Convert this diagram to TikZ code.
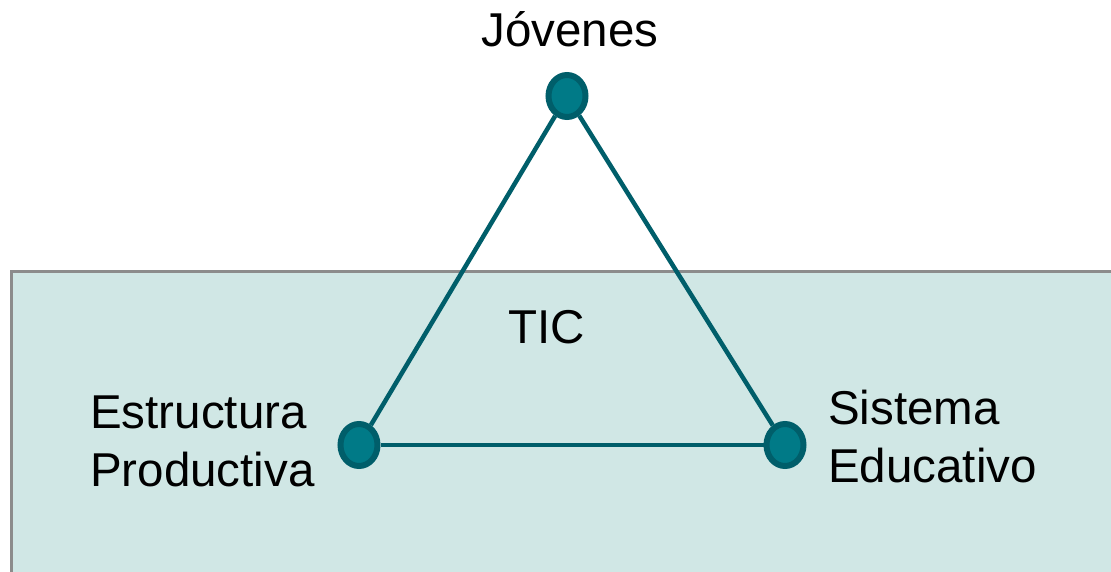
\documentclass[tikz,border=0pt]{standalone}
\usepackage{fontspec}
\setmainfont{Liberation Sans}
\usetikzlibrary{shapes.geometric, positioning}
\definecolor{tealfill}{RGB}{0,122,135}
\definecolor{tealdark}{RGB}{0,94,106}
\definecolor{boxfill}{RGB}{208,231,229}
\definecolor{boxline}{RGB}{140,140,140}

\begin{document}
\begin{tikzpicture}[
    x=1pt, y=-1pt,
    dot/.style={ellipse, draw=tealdark, line width=6pt, fill=tealfill,
                minimum width=37pt, minimum height=42pt, inner sep=0pt},
    label/.style={font=\fontsize{47.5}{58}\selectfont, inner sep=0pt, align=left},
    link/.style={draw=tealdark, line width=4.5pt}
]
    \useasboundingbox (0,0) rectangle (1111,572);
    \fill[boxfill, draw=boxline, line width=3pt] (11,271) rectangle (1120,580);

    \node[dot] (jov) at (567,96) {};
    \node[dot] (est) at (359,445) {};
    \node[dot] (sis) at (785,445) {};

    \draw[link] (jov) -- (est);
    \draw[link] (jov) -- (sis);
    \draw[link] (est) -- (sis);

    \node[label, anchor=base] (tjov) at (570,47) {Jóvenes};
    \node[label, anchor=base] (ttic) at (547,343) {TIC};
    % last line sits on the given baseline
    \node[label, anchor=base west] (test) at (90,486) {Estructura\\Productiva};
    \node[label, anchor=base west] (tsis) at (828,482) {Sistema\\Educativo};
\end{tikzpicture}
\end{document}
